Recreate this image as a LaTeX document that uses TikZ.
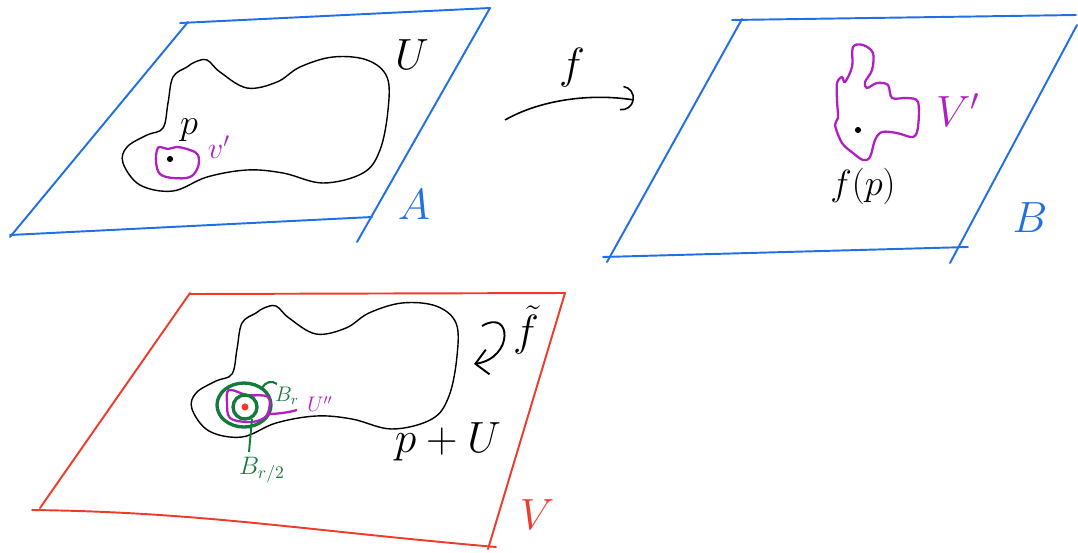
\documentclass[tikz,border=0pt]{standalone}
\usepackage{tikz}
\usepackage{xcolor}
\usepackage{amsmath}
\usetikzlibrary{arrows.meta, positioning}
\definecolor{planeblue}{HTML}{1F6FE5}
\definecolor{planered}{HTML}{EE3B2C}
\definecolor{lilac}{HTML}{B01FC4}
\definecolor{ballgreen}{HTML}{137A3C}
\tikzset{
  plane/.style={line width=1.1pt, line cap=round},
  blob/.style={line width=0.8pt, draw=black},
  nbhd/.style={line width=1.3pt, draw=lilac},
  ball/.style={line width=1.9pt, draw=ballgreen},
  lbl/.style={inner sep=0pt},
  pt/.style={circle, fill=black, inner sep=0pt, minimum size=3.5pt},
  flow/.style={-{Arc Barb[length=2.5mm, width=5mm]}, line width=0.9pt},
  back/.style={-{Straight Barb[length=2.5mm, width=5mm]}, line width=1.1pt},
}
\newcommand{\ushape}{plot[smooth cycle, tension=0.6] coordinates {
  (195,62) (207,60) (220,72) (247,88) (277,82) (300,67) (333,57) (367,60)
  (387,77) (388,110) (380,150) (363,173) (323,183) (283,173) (247,170)
  (207,177) (173,191) (140,185) (123,163) (127,147) (147,135) (163,128)
  (168,103) (173,77) (187,67)}}
\begin{document}
\begin{tikzpicture}[x=0.02cm, y=-0.02cm]
  \useasboundingbox (0,0) rectangle (1078,552);
  % plane A
  \draw[plane, planeblue] (180,23) -- (490,8);
  \draw[plane, planeblue] (188,22) -- (10,237);
  \draw[plane, planeblue] (10,235) -- (372,217);
  \draw[plane, planeblue] (490,8) -- (357,242);
  \node[lbl, text=planeblue, font=\fontsize{32}{36}\selectfont] (A) at (414,205) {$A$};
  \draw[blob] \ushape;
  \node[lbl, font=\fontsize{24}{28}\selectfont] (U) at (412,55) {$U$};
  \draw[nbhd] plot[smooth cycle, tension=0.6] coordinates {
    (160,147) (168,149) (177,147) (190,150) (198,155) (198,167) (190,177)
    (173,178) (160,174) (156,162) (157,150)};
  \node[pt] (p) at (170,159) {};
  \node[lbl, font=\fontsize{22}{26}\selectfont] (plbl) at (189,130) {$p$};
  \node[lbl, text=lilac, font=\fontsize{18}{22}\selectfont] (Vp) at (219,147) {$v'$};
  % map f
  \coordinate (fstart) at (505,120);
  \coordinate (fend) at (634,100);
  \draw[flow] (fstart) .. controls (540,100) and (590,93) .. (fend);
  \node[lbl, font=\fontsize{26}{30}\selectfont] (f) at (572,68) {$f$};
  % plane B
  \draw[plane, planeblue] (732,20) -- (1076,15);
  \draw[plane, planeblue] (742,19) -- (607,262);
  \draw[plane, planeblue] (603,257) -- (968,247);
  \draw[plane, planeblue] (1077,25) -- (950,263);
  \node[lbl, text=planeblue, font=\fontsize{32}{36}\selectfont] (B) at (1030,218) {$B$};
  \draw[nbhd] plot[smooth cycle, tension=0.55] coordinates {
    (853,47) (863,45) (873,53) (872,70) (865,82) (867,88) (877,83) (888,85)
    (892,98) (907,98) (918,102) (918,127) (913,137) (897,133) (882,132)
    (875,140) (870,157) (863,160) (853,153) (842,143) (835,125) (838,118)
    (837,100) (837,83) (842,77) (845,82) (852,67)};
  \node[pt] (fp) at (858,130) {};
  \node[lbl, font=\fontsize{22}{26}\selectfont] (fplbl) at (863,186) {$f(p)$};
  \node[lbl, text=lilac, font=\fontsize{24}{28}\selectfont] (Vpp) at (958,110) {$V'$};
  % plane V
  \draw[plane, planered] (190,294) -- (565,293);
  \draw[plane, planered] (190,293) -- (40,508);
  \draw[plane, planered] (32,510) .. controls (200,512) and (300,530) .. (496,547);
  \draw[plane, planered] (565,293) -- (488,549);
  \node[lbl, text=planered, font=\fontsize{32}{36}\selectfont] (V) at (537,515) {$V$};
  \draw[blob, shift={(69,246)}] \ushape;
  \node[lbl, font=\fontsize{24}{28}\selectfont] (pU) at (448,442) {$p+U$};
  % induced map
  \coordinate (gstart) at (482,326);
  \coordinate (gend) at (474,364);
  \draw[back] (gstart) .. controls (512,308) and (514,358) .. (gend);
  \node[lbl, font=\fontsize{26}{30}\selectfont] (ft) at (526,330) {$\tilde{f}$};
  % balls round p
  \draw[ball] (244,405) ellipse (27 and 22);
  \draw[nbhd] plot[smooth cycle, tension=0.6] coordinates {
    (229,390) (247,395) (268,397) (268,413) (260,420) (247,422) (230,418)
    (227,403)};
  \draw[nbhd] (267,414) .. controls (275,414) and (287,413) .. (297,410);
  \draw[ball] (245,407) circle (12);
  \node[circle, fill=planered, inner sep=0pt, minimum size=4pt] (c) at (245,407) {};
  \draw[ball, line width=1.2pt] (262,388) .. controls (265,382) and (272,380) .. (277,384);
  \draw[ball, line width=1.1pt] (252,419) -- (249,452);
  \node[lbl, text=ballgreen, font=\fontsize{12}{14}\selectfont] (Br) at (287,396) {$B_r$};
  \node[lbl, text=lilac, font=\fontsize{12}{14}\selectfont] (Upp) at (320,404) {$U''$};
  \node[lbl, text=ballgreen, font=\fontsize{14}{16}\selectfont] (Br2) at (262,470) {$B_{r/2}$};
\end{tikzpicture}
\end{document}
